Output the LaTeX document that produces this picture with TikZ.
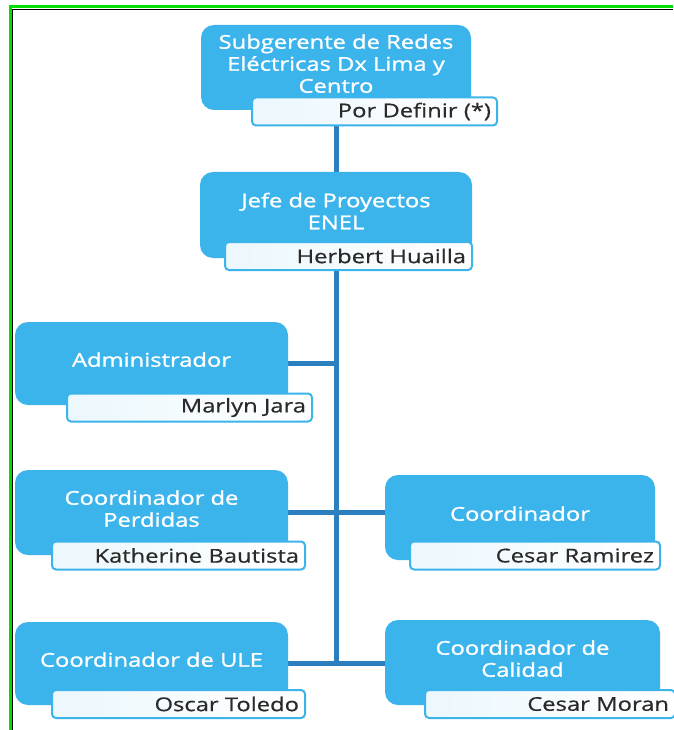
\documentclass[tikz,border=0pt]{standalone}
\usepackage{fontspec}
\setmainfont{Open Sans}
\newfontfamily\titlefont{Open Sans}[FakeStretch=1.25, FakeBold=1.2]
\newfontfamily\namefont{Open Sans}[FakeStretch=1.25, FakeBold=0.6]
\usetikzlibrary{positioning,backgrounds}

\definecolor{boxblue}{HTML}{3BB4EC}
\definecolor{linkblue}{HTML}{2B7FBF}
\definecolor{namegray}{HTML}{2A2A2A}
\definecolor{framegreen}{HTML}{00E000}

\tikzset{
  unit/.style={fill=boxblue, rounded corners=13pt, text=white, align=center,
    font=\titlefont\fontsize{19}{22}\selectfont, inner sep=0pt, text depth=8pt},
  namebar/.style={draw=boxblue, line width=2pt, rounded corners=4pt,
    left color=boxblue!10, right color=white, text=namegray,
    font=\namefont\fontsize{19}{20}\selectfont, minimum height=28pt, align=right,
    inner xsep=6pt, inner ysep=0pt},
  link/.style={draw=linkblue, line width=5pt},
}

\begin{document}
\begin{tikzpicture}[x=1pt,y=-1pt]
  \useasboundingbox (0,0) rectangle (673,730);

  % Frame
  \draw[framegreen, line width=3pt] (10,730) -- (10,7) -- (673,7);
  \draw[black, line width=1pt] (12.5,730) -- (12.5,9.5) -- (673,9.5);

  % Units
  \node[unit, minimum width=270pt, minimum height=85pt] (sub) at (336,67.5) {Subgerente de Redes\\Eléctricas Dx Lima y\\Centro};
  \node[unit, minimum width=272pt, minimum height=86pt] (jefe) at (336,215) {Jefe de Proyectos\\ENEL};
  \node[unit, minimum width=273pt, minimum height=83pt] (admin) at (151.5,363.5) {Administrador};
  \node[unit, minimum width=273pt, minimum height=85pt] (perd) at (151.5,512.5) {Coordinador de\\Perdidas};
  \node[unit, minimum width=270pt, minimum height=85pt] (coord) at (520,517.5) {Coordinador};
  \node[unit, minimum width=273pt, minimum height=83pt] (ule) at (151.5,663.5) {Coordinador de ULE};
  \node[unit, minimum width=275pt, minimum height=85pt] (cal) at (522.5,662.5) {Coordinador de\\Calidad};

  % Names
  \node[namebar, text width=233pt] (subname) at (374.5,111.5) {Por Definir (*)};
  \node[namebar, text width=235pt] (jefename) at (348.5,256) {Herbert Huailla};
  \node[namebar, text width=233pt] (adminname) at (189.5,407.5) {Marlyn Jara};
  \node[namebar, text width=241pt] (perdname) at (178.5,555.5) {Katherine Bautista};
  \node[namebar, text width=238pt] (coordname) at (535,555.5) {Cesar Ramirez};
  \node[namebar, text width=241pt] (ulename) at (178.5,704) {Oscar Toledo};
  \node[namebar, text width=238pt] (calname) at (550,704) {Cesar Moran};

  % Links, behind the boxes
  \coordinate (trunkend) at (336,662);
  \begin{scope}[on background layer]
    \fill[white] (0,0) rectangle (673,730);
    \draw[link] (sub.south) -- (jefe.north);
    \draw[link] (jefe.south) -- (trunkend);
    \draw[link] (admin.east) -- (admin.east -| trunkend);
    \draw[link] (perd.east) -- (perd.east -| coord.west);
    \draw[link] (ule.east) -- (ule.east -| cal.west);
  \end{scope}
\end{tikzpicture}
\end{document}
